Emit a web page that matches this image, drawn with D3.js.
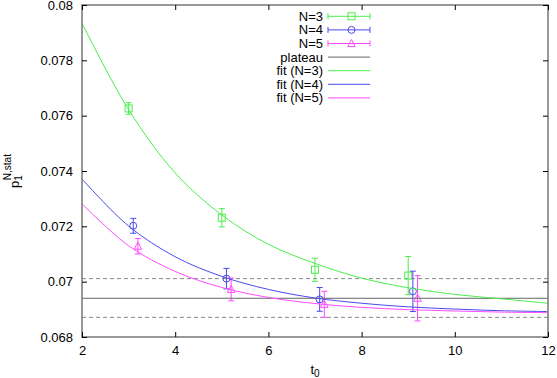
<!DOCTYPE html>
<html>
  <head>
  <title>plateau fit</title>
  <style>
    body, html {
      margin: 0;
      padding: 0;
      background: white;
    }
    svg text {
      font-family: "Liberation Sans", Arial, sans-serif;
    }
  </style>
  </head>
  <body>

  <svg id="svg" width="557" height="378"></svg>

  <script src="https://d3js.org/d3.v7.min.js"></script>
  <script>
    // measured points (t0, value, error)
    const n3T = [3, 5, 7, 9]
    const n3Val = [0.07626, 0.07231, 0.07043, 0.07022]
    const n3Err = [0.00021, 0.00033, 0.00042, 0.00069]

    const n4T = [3.1, 5.1, 7.1, 9.1]
    const n4Val = [0.07202, 0.07011, 0.06936, 0.06965]
    const n4Err = [0.00027, 0.00037, 0.00043, 0.00073]

    const n5T = [3.2, 5.2, 7.2, 9.2]
    const n5Val = [0.07128, 0.06972, 0.06918, 0.06940]
    const n5Err = [0.00028, 0.00041, 0.00047, 0.00082]

    // fit curves at integer t0
    const fitT = [2, 3, 4, 5, 6, 7, 8, 9, 10, 11, 12]
    const fitN3 = [0.07934, 0.07622, 0.07393, 0.07241, 0.07135, 0.07066, 0.07013, 0.06978, 0.06954, 0.06938, 0.06922]
    const fitN4 = [0.07371, 0.07201, 0.07090, 0.07019, 0.06972, 0.06941, 0.06922, 0.06909, 0.06901, 0.06895, 0.06892]
    const fitN5 = [0.07281, 0.07130, 0.07037, 0.06979, 0.06943, 0.06921, 0.06907, 0.06899, 0.06894, 0.06890, 0.06888]

    const plateau = 0.0694
    const plateauLo = 0.06871
    const plateauHi = 0.07011

    const xTicks = [2, 4, 6, 8, 10, 12]
    const yTicks = [0.068, 0.07, 0.072, 0.074, 0.076, 0.078, 0.08]

    const green = '#4ced4c'
    const blue = '#4a4aee'
    const magenta = '#ff4cff'

    const margin = { top: 5, right: 9, bottom: 41, left: 82 }
    const width = 557 - margin.left - margin.right
    const height = 378 - margin.top - margin.bottom

    const xscale = d3.scaleLinear().domain([2, 12]).range([margin.left, margin.left + width])
    const yscale = d3.scaleLinear().domain([0.068, 0.08]).range([margin.top + height, margin.top])

    const svg = d3.select('#svg')

    // plateau band
    svg.append('g')
      .selectAll('line')
      .data([plateauHi, plateauLo])
      .enter()
      .append('line')
      .attr('x1', xscale(2))
      .attr('x2', xscale(12))
      .attr('y1', d => yscale(d))
      .attr('y2', d => yscale(d))
      .attr('stroke', '#888')
      .attr('stroke-width', 1)
      .attr('stroke-dasharray', '4,3')

    // data sets
    const sets = [
      { t: n3T, v: n3Val, e: n3Err, color: green, shape: 'square' },
      { t: n4T, v: n4Val, e: n4Err, color: blue, shape: 'circle' },
      { t: n5T, v: n5Val, e: n5Err, color: magenta, shape: 'triangle' }
    ]

    function drawMarker(g, shape, color, cx, cy) {
      if (shape === 'square') {
        g.append('rect').attr('x', cx - 3.5).attr('y', cy - 3.5).attr('width', 7).attr('height', 7)
          .attr('fill', 'none').attr('stroke', color)
      } else if (shape === 'circle') {
        g.append('circle').attr('cx', cx).attr('cy', cy).attr('r', 3.5)
          .attr('fill', 'none').attr('stroke', color)
      } else {
        g.append('path').attr('d', `M${cx},${cy - 4}L${cx + 3.8},${cy + 3}L${cx - 3.8},${cy + 3}Z`)
          .attr('fill', 'none').attr('stroke', color)
      }
    }

    sets.forEach(s => {
      const g = svg.append('g').attr('stroke-width', 1)
      s.t.forEach((t, i) => {
        const cx = xscale(t)
        const top = yscale(s.v[i] + s.e[i])
        const bot = yscale(s.v[i] - s.e[i])
        g.append('line').attr('x1', cx).attr('x2', cx).attr('y1', top).attr('y2', bot).attr('stroke', s.color)
        g.append('line').attr('x1', cx - 3).attr('x2', cx + 3).attr('y1', top).attr('y2', top).attr('stroke', s.color)
        g.append('line').attr('x1', cx - 3).attr('x2', cx + 3).attr('y1', bot).attr('y2', bot).attr('stroke', s.color)
        drawMarker(g, s.shape, s.color, cx, yscale(s.v[i]))
      })
    })

    // plateau
    svg.append('line')
      .attr('x1', xscale(2))
      .attr('x2', xscale(12))
      .attr('y1', yscale(plateau))
      .attr('y2', yscale(plateau))
      .attr('stroke', '#666')
      .attr('stroke-width', 1)

    // fit curves
    const line = d3.line()
      .x((d, i) => xscale(fitT[i]))
      .y(d => yscale(d))
      .curve(d3.curveCatmullRom)

    const fits = [
      { v: fitN3, color: green },
      { v: fitN4, color: blue },
      { v: fitN5, color: magenta }
    ]
    svg.append('g')
      .selectAll('path')
      .data(fits)
      .enter()
      .append('path')
      .attr('d', d => line(d.v))
      .attr('fill', 'none')
      .attr('stroke', d => d.color)
      .attr('stroke-width', 1)

    // frame
    svg.append('rect')
      .attr('x', margin.left)
      .attr('y', margin.top)
      .attr('width', width)
      .attr('height', height)
      .attr('fill', 'none')
      .attr('stroke', '#777')
      .attr('stroke-width', 1.5)

    const bottomAxis = d3.axisBottom(xscale).tickValues(xTicks).tickSize(-5).tickPadding(9).tickFormat(d3.format('d'))
    const topAxis = d3.axisTop(xscale).tickValues(xTicks).tickSize(-5).tickFormat('')
    const leftAxis = d3.axisLeft(yscale).tickValues(yTicks).tickSize(-5).tickPadding(9).tickFormat(d => +d.toFixed(3))
    const rightAxis = d3.axisRight(yscale).tickValues(yTicks).tickSize(-5).tickFormat('')

    const axes = [
      svg.append('g').attr('transform', `translate(0, ${margin.top + height})`).call(bottomAxis),
      svg.append('g').attr('transform', `translate(0, ${margin.top})`).call(topAxis),
      svg.append('g').attr('transform', `translate(${margin.left}, 0)`).call(leftAxis),
      svg.append('g').attr('transform', `translate(${margin.left + width}, 0)`).call(rightAxis)
    ]
    axes.forEach(a => {
      a.select('.domain').remove()
      a.selectAll('.tick line').attr('stroke', '#000')
      a.selectAll('text').attr('font-size', 13).attr('fill', '#000')
        .style('font-family', '"Liberation Sans", Arial, sans-serif')
    })

    // axis titles
    const xt = svg.append('text')
      .attr('x', xscale(7))
      .attr('y', 374)
      .attr('text-anchor', 'middle')
      .attr('font-size', 13)
    xt.append('tspan').text('t')
    xt.append('tspan').attr('font-size', 10).attr('dy', 3).text('0')

    const yt = svg.append('text')
      .attr('transform', `translate(19, ${yscale(0.074)}) rotate(-90)`)
      .attr('text-anchor', 'middle')
      .attr('font-size', 13)
    yt.append('tspan').text('p')
    yt.append('tspan').attr('font-size', 10).attr('dy', 3).text('1')
    yt.append('tspan').attr('font-size', 10).attr('dx', -5).attr('dy', -11).text('N,stat')

    // legend
    const legendItems = [
      { label: 'N=3', color: green, shape: 'square', bars: true },
      { label: 'N=4', color: blue, shape: 'circle', bars: true },
      { label: 'N=5', color: magenta, shape: 'triangle', bars: true },
      { label: 'plateau', color: '#666' },
      { label: 'fit (N=3)', color: green },
      { label: 'fit (N=4)', color: blue },
      { label: 'fit (N=5)', color: magenta }
    ]
    const legend = svg.append('g')
    legendItems.forEach((d, i) => {
      const y = 16.3 + i * 13.6
      legend.append('text')
        .attr('x', 323)
        .attr('y', y + 4.5)
        .attr('text-anchor', 'end')
        .attr('font-size', 13)
        .text(d.label)
      legend.append('line')
        .attr('x1', 328).attr('x2', 370)
        .attr('y1', y).attr('y2', y)
        .attr('stroke', d.color)
      if (d.bars) {
        legend.append('line').attr('x1', 328).attr('x2', 328).attr('y1', y - 3).attr('y2', y + 3).attr('stroke', d.color)
        legend.append('line').attr('x1', 370).attr('x2', 370).attr('y1', y - 3).attr('y2', y + 3).attr('stroke', d.color)
        drawMarker(legend, d.shape, d.color, 351.5, y)
      }
    })
  </script>
  </body>
</html>
